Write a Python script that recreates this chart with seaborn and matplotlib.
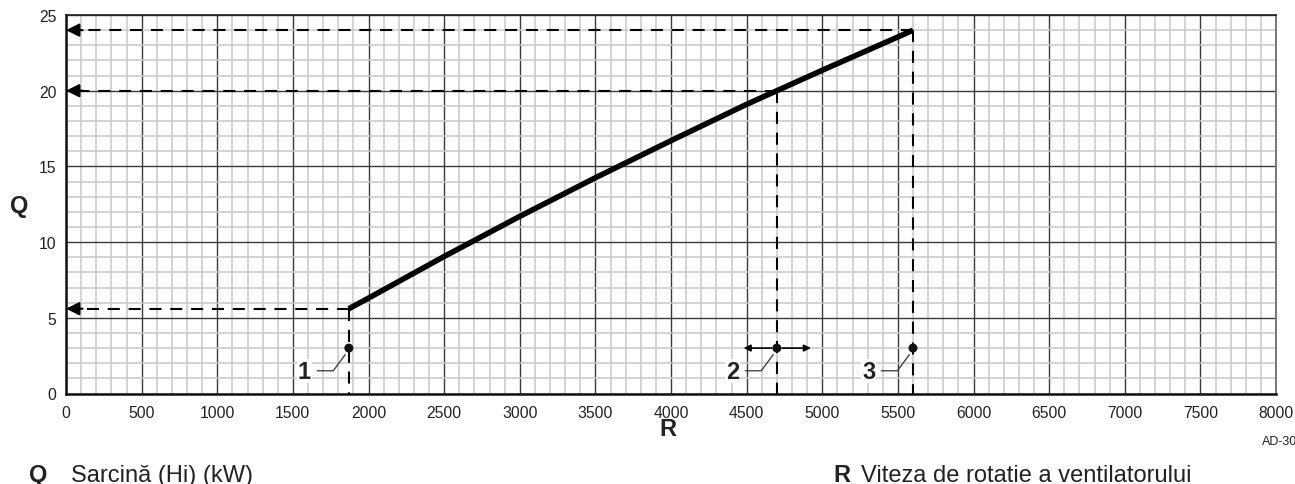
import matplotlib
matplotlib.use("Agg")
import matplotlib.pyplot as plt
from matplotlib.ticker import MultipleLocator
import numpy as np
import pandas as pd
import seaborn as sns

# Load curve: fan speed (rpm) vs. heat input (kW)
speed_rpm = [1870, 2000, 2500, 3000, 3500, 4000, 4500, 4700, 5000, 5500, 5600]
load_kw = [5.6, 6.3, 9.05, 11.7, 14.25, 16.7, 19.1, 20.0, 21.35, 23.55, 24.0]

# Marked operating points: minimum, start, maximum
point_labels = ["1", "2", "3"]
point_speed = [1870, 4700, 5600]
point_load = [5.6, 20.0, 24.0]
marker_level = 3.0

x_ticks = list(range(0, 8001, 500))
y_ticks = list(range(0, 26, 5))

sns.set_style("white")
plt.rcParams["font.family"] = ["Liberation Sans", "DejaVu Sans"]

fig = plt.figure(figsize=(12.95, 4.85), dpi=100)
W, H = 1295, 485
ax = fig.add_axes([66 / W, 1 - 394.5 / H, (1276 - 66) / W, (394.5 - 16) / H])

ax.set_xlim(0, 8000)
ax.set_ylim(0, 25)
ax.set_xticks(x_ticks)
ax.set_yticks(y_ticks)
ax.xaxis.set_minor_locator(MultipleLocator(100))
ax.yaxis.set_minor_locator(MultipleLocator(1))
ax.set_axisbelow(True)
ax.grid(which="minor", color="#c9c9c9", lw=1.1)
ax.grid(which="major", color="#3a3a3a", lw=1.0)
ax.tick_params(which="both", length=0, labelsize=11.3, colors="#222222")
ax.tick_params(axis="x", pad=8)
ax.tick_params(axis="y", pad=7)

for side in ("left", "bottom"):
    ax.spines[side].set_color("#111111")
    ax.spines[side].set_linewidth(1.8)
ax.spines["top"].set_color("#222222")
ax.spines["top"].set_linewidth(1.2)
ax.spines["right"].set_color("#777777")
ax.spines["right"].set_linewidth(1.4)

# Dashed guide lines from each marked point to both axes
dash = dict(color="black", lw=1.5, dashes=(5.8, 4.2), zorder=3)
for xs, ys in zip(point_speed, point_load):
    ax.plot([xs, 90], [ys, ys], **dash)
    ax.plot([xs, xs], [ys, 0], **dash)
    ax.annotate("", xy=(0, ys), xytext=(110, ys),
                arrowprops=dict(arrowstyle="-|>", color="black", lw=1.5,
                                mutation_scale=20, shrinkA=0, shrinkB=0),
                zorder=4)

# Load curve
df = pd.DataFrame({"speed": speed_rpm, "load": load_kw})
sns.lineplot(data=df, x="speed", y="load", color="black", lw=4.0,
             ax=ax, zorder=5, solid_capstyle="butt")

# Point markers on the speed axis
pts = pd.DataFrame({"speed": point_speed, "level": [marker_level] * 3})
sns.scatterplot(data=pts, x="speed", y="level", color="#111111", s=42,
                edgecolor="none", ax=ax, zorder=6)

# Adjustment range around the start point
start_x = point_speed[1]
for end_x in (4480, 4925):
    ax.annotate("", xy=(end_x, marker_level),
                xytext=(start_x + (35 if end_x > start_x else -35), marker_level),
                arrowprops=dict(arrowstyle="-|>", color="black", lw=1.2,
                                mutation_scale=10, shrinkA=0, shrinkB=0),
                zorder=6)

# Numbered callouts with leader lines
for lab, xs in zip(point_labels, point_speed):
    ax.plot([xs - 209, xs - 103, xs - 24], [1.5, 1.5, 2.57],
            color="#333333", lw=0.9, zorder=6)
    ax.text(xs - 293, 1.48, lab, fontsize=17, fontweight="bold",
            ha="center", va="center", color="#222222", zorder=7,
            bbox=dict(facecolor="white", edgecolor="none", pad=0.5))

ax.set_xlabel("")
ax.set_ylabel("")

# Axis letters
fig.text(19 / W, 1 - 206 / H, "Q", fontsize=17, fontweight="bold",
         ha="center", va="center", color="#222222")
fig.text(668 / W, 1 - 430 / H, "R", fontsize=17, fontweight="bold",
         ha="center", va="center", color="#222222")
fig.text(1262 / W, 1 - 442 / H, "AD-30", fontsize=9, ha="left",
         va="center", color="#222222")

# Key
fig.text(29 / W, 1 - 482 / H, "Q", fontsize=17, fontweight="bold",
         ha="left", va="baseline", color="#222222")
fig.text(71 / W, 1 - 482 / H, "Sarcină (Hi) (kW)", fontsize=17,
         ha="left", va="baseline", color="#222222")
fig.text(833 / W, 1 - 482 / H, "R", fontsize=17, fontweight="bold",
         ha="left", va="baseline", color="#222222")
fig.text(861 / W, 1 - 482 / H, "Viteza de rotatie a ventilatorului",
         fontsize=17, ha="left", va="baseline", color="#222222")

fig.savefig("out.png", dpi=100)
